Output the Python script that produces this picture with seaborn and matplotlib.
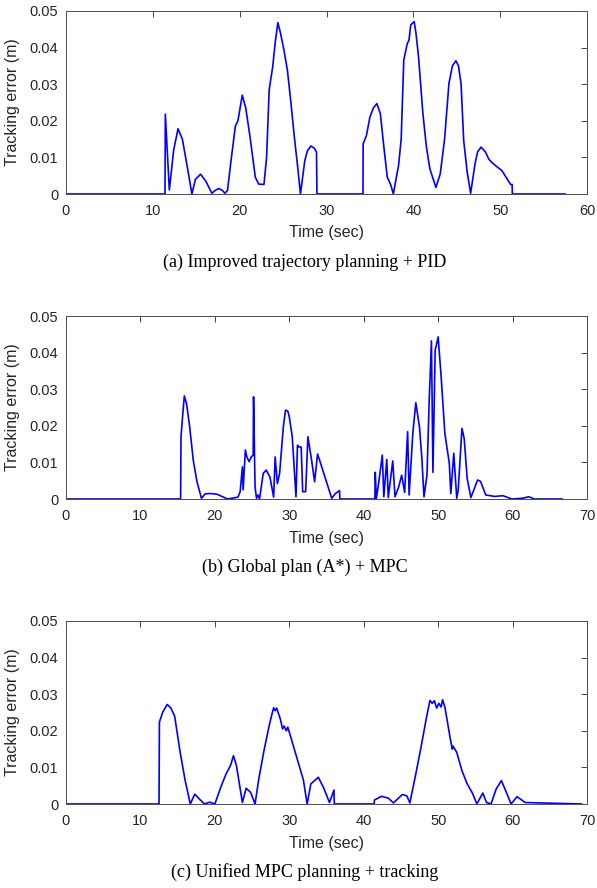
import matplotlib
matplotlib.use("Agg")
import matplotlib.pyplot as plt
import seaborn as sns
import pandas as pd

# ---------------- data ----------------
t_a = [0, 11.40, 11.44, 11.9, 12.4, 12.9, 13.4, 14.0, 14.5, 14.9, 15.5, 16.1, 16.8, 17.2, 17.6, 18.0, 18.3, 18.6,
       19.0, 19.5, 19.8, 20.3, 20.7, 21.2, 21.8, 22.2, 22.8, 23.1, 23.4, 23.8, 24.1, 24.4, 24.7, 25.1, 25.5, 25.9,
       26.3, 26.7, 27.0, 27.5, 27.8, 28.2, 28.6, 28.85, 28.9,
       34.2, 34.22, 34.6, 35.0, 35.4, 35.8, 36.2, 36.6, 37.0, 37.4, 37.7, 38.0, 38.3, 38.6, 38.9, 39.3, 39.5, 39.7,
       40.1, 40.3, 40.6, 41.1, 41.5, 41.9, 42.6, 43.1, 43.6, 44.1, 44.5, 44.9, 45.2, 45.5, 45.8, 46.2, 46.6, 47.1,
       47.4, 47.8, 48.3, 48.7, 49.0, 49.6, 50.2, 50.7, 51.2, 51.38, 51.4, 57.5]
e_a = [0, 0, 0.0218, 0.0011, 0.0120, 0.0178, 0.0150, 0.0070, 0.0000, 0.0040, 0.0054, 0.0035, 0.0002, 0.0010, 0.0015,
       0.0010, 0.0002, 0.0010, 0.0090, 0.0185, 0.0200, 0.0270, 0.0235, 0.0155, 0.0046, 0.0027, 0.0026, 0.0100,
       0.0285, 0.0347, 0.0415, 0.0468, 0.0440, 0.0393, 0.0338, 0.0250, 0.0155, 0.0070, 0.0000, 0.0091, 0.0118,
       0.0131, 0.0125, 0.0114, 0,
       0, 0.0137, 0.0160, 0.0210, 0.0235, 0.0247, 0.0220, 0.0130, 0.0046, 0.0025, 0.0000, 0.0040, 0.0078, 0.0150,
       0.0366, 0.0411, 0.0420, 0.0462, 0.0471, 0.0440, 0.0375, 0.0220, 0.0130, 0.0069, 0.0018, 0.0055, 0.0150,
       0.0302, 0.0350, 0.0364, 0.0350, 0.0300, 0.0146, 0.0060, 0.0002, 0.0082, 0.0115, 0.0128, 0.0115, 0.0095,
       0.0087, 0.0075, 0.0064, 0.0045, 0.0026, 0.0026, 0, 0]

t_b = [0, 15.4, 15.45, 15.7, 15.9, 16.2, 16.6, 17.1, 17.6, 18.2, 18.7, 19.4, 20.3, 21.7, 23.1, 23.4, 23.7, 23.8,
       24.1, 24.3, 24.6, 24.9, 25.15, 25.2, 25.4, 25.6, 25.8, 26.0, 26.5, 26.9, 27.4, 27.9, 28.1, 28.4, 28.7, 29.2,
       29.5, 29.8, 30.0, 30.4, 30.9, 31.1, 31.3, 31.6, 31.8, 32.2, 32.5, 33.0, 33.4, 33.8, 34.2, 35.7, 36.2, 36.75,
       36.8,
       41.5, 41.55, 41.7, 42.0, 42.5, 42.7, 43.1, 43.3, 43.9, 44.2, 44.7, 45.1, 45.5, 45.9, 46.1, 46.6, 47.0, 47.5,
       47.8, 48.1, 48.5, 48.8, 49.1, 49.3, 49.6, 50.0, 50.4, 50.9, 51.5, 51.7, 52.1, 52.5, 52.7, 53.2, 53.5, 53.9,
       54.4, 54.8, 55.3, 55.7, 56.4, 57.6, 58.7, 59.9, 61.3, 62.2, 62.9, 66.7]
e_b = [0, 0, 0.0170, 0.0234, 0.0282, 0.0260, 0.0200, 0.0106, 0.0047, 0.0002, 0.0014, 0.0015, 0.0013, 0.0000,
       0.0005, 0.0020, 0.0088, 0.0025, 0.0134, 0.0115, 0.0102, 0.0115, 0.0120, 0.0279, 0.0033, 0.0002, 0.0011,
       0.0000, 0.0070, 0.0079, 0.0060, 0.0005, 0.0115, 0.0042, 0.0070, 0.0197, 0.0243, 0.0240, 0.0225, 0.0170,
       0.0006, 0.0147, 0.0142, 0.0142, 0.0020, 0.0020, 0.0170, 0.0106, 0.0047, 0.0123, 0.0098, 0.0002, 0.0015,
       0.0023, 0,
       0, 0.0073, 0.0002, 0.0042, 0.0120, 0.0006, 0.0108, 0.0004, 0.0104, 0.0006, 0.0033, 0.0065, 0.0018, 0.0184,
       0.0011, 0.0180, 0.0263, 0.0195, 0.0115, 0.0006, 0.0065, 0.0270, 0.0432, 0.0073, 0.0406, 0.0443, 0.0335,
       0.0180, 0.0097, 0.0015, 0.0125, 0.0002, 0.0025, 0.0193, 0.0165, 0.0056, 0.0004, 0.0025, 0.0052, 0.0048,
       0.0011, 0.0007, 0.0009, 0.0000, 0.0002, 0.0006, 0, 0]

t_c = [0, 12.5, 12.55, 13.0, 13.6, 14.1, 14.6, 15.3, 16.0, 16.7, 17.3, 18.0, 18.6, 19.3, 20.0, 20.8, 21.5, 22.1,
       22.5, 22.9, 23.7, 24.2, 24.8, 25.4, 25.9, 26.6, 27.3, 27.6, 27.9, 28.1, 28.3, 28.5, 28.8, 29.1, 29.3, 29.6,
       29.8, 30.1, 30.6, 31.4, 31.9, 32.4, 32.9, 33.9, 34.6, 35.4, 36.0, 36.05,
       41.4, 41.45, 42.4, 43.3, 44.0, 45.2, 45.8, 46.2, 47.0, 47.7, 48.4, 48.9, 49.2, 49.5, 49.8, 50.1, 50.4, 50.6,
       50.9, 51.2, 51.6, 51.9, 52.0, 52.5, 53.2, 53.9, 54.6, 55.2, 56.0, 56.5, 57.1, 57.8, 58.5, 59.2, 59.8, 60.6,
       61.7, 63.6, 69.3]
e_c = [0, 0, 0.0224, 0.0251, 0.0272, 0.0262, 0.0240, 0.0146, 0.0065, 0.0000, 0.0027, 0.0012, 0.0000, 0.0005,
       0.0000, 0.0046, 0.0082, 0.0105, 0.0132, 0.0105, 0.0004, 0.0043, 0.0032, 0.0000, 0.0068, 0.0146, 0.0214,
       0.0240, 0.0263, 0.0255, 0.0262, 0.0250, 0.0232, 0.0205, 0.0213, 0.0200, 0.0210, 0.0190, 0.0155, 0.0100,
       0.0065, 0.0000, 0.0055, 0.0073, 0.0045, 0.0004, 0.0038, 0,
       0, 0.0011, 0.0021, 0.0016, 0.0003, 0.0026, 0.0022, 0.0003, 0.0082, 0.0155, 0.0233, 0.0283, 0.0275, 0.0282,
       0.0262, 0.0275, 0.0265, 0.0285, 0.0265, 0.0230, 0.0182, 0.0150, 0.0158, 0.0141, 0.0091, 0.0055, 0.0030,
       0.0000, 0.0030, 0.0004, 0.0000, 0.0041, 0.0064, 0.0030, 0.0000, 0.0020, 0.0004, 0.0003, 0]

captions = ["(a) Improved trajectory planning + PID",
            "(b) Global plan (A*) + MPC",
            "(c) Unified MPC planning + tracking"]
xmax = [60, 70, 70]
y_ticks = [0, 0.01, 0.02, 0.03, 0.04, 0.05]
y_ticklabels = ["0", "0.01", "0.02", "0.03", "0.04", "0.05"]

# ---------------- plot ----------------
sns.set_theme(style="white")
plt.rcParams['font.family'] = ['Liberation Sans', 'DejaVu Sans']

W, H = 597, 888
fig = plt.figure(figsize=(W / 100, H / 100), dpi=100)

axes_px = [(11, 194), (316, 499), (621, 804)]
caption_y = [262, 567, 872]
caption_x = 305
left_px, right_px = 66, 587
datasets = [(t_a, e_a), (t_b, e_b), (t_c, e_c)]
dark = "#262626"
ax_h = axes_px[0][1] - axes_px[0][0]

for i, ((top, bot), (t, e)) in enumerate(zip(axes_px, datasets)):
    ax = fig.add_axes([left_px / W, 1 - bot / H, (right_px - left_px) / W, (bot - top) / H])
    df = pd.DataFrame({"t": t, "e": e})
    sns.lineplot(data=df, x="t", y="e", ax=ax, color="#0000ff", linewidth=1.2,
                 estimator=None, sort=False)
    ax.set_xlim(0, xmax[i])
    ax.set_ylim(0, 0.05)
    ax.set_yticks(y_ticks)
    ax.set_yticklabels(y_ticklabels)
    ax.set_xticks(list(range(0, xmax[i] + 1, 10)))
    ax.tick_params(direction="in", length=4, width=0.6, colors=dark, labelsize=10.5,
                   top=True, right=True, labelcolor=dark)
    ax.tick_params(axis="x", pad=7)
    ax.tick_params(axis="y", pad=5.5)
    for s in ax.spines.values():
        s.set_color("#4d4d4d")
        s.set_linewidth(0.7)
    ax.set_xlabel("Time (sec)", fontsize=11.5, color=dark)
    ax.set_ylabel("Tracking error (m)", fontsize=11.5, color=dark)
    ax.xaxis.set_label_coords(0.5, -(233 - 194) / ax_h)
    ax.xaxis.label.set_va("center")
    ax.yaxis.set_label_coords((13 - left_px) / (right_px - left_px), 0.5)
    ax.yaxis.label.set_va("center")
    fig.text(caption_x / W, 1 - caption_y[i] / H, captions[i], ha="center", va="center",
             fontsize=13, family=["Liberation Serif", "DejaVu Serif"], color="black")

fig.savefig("out.png", dpi=100)
